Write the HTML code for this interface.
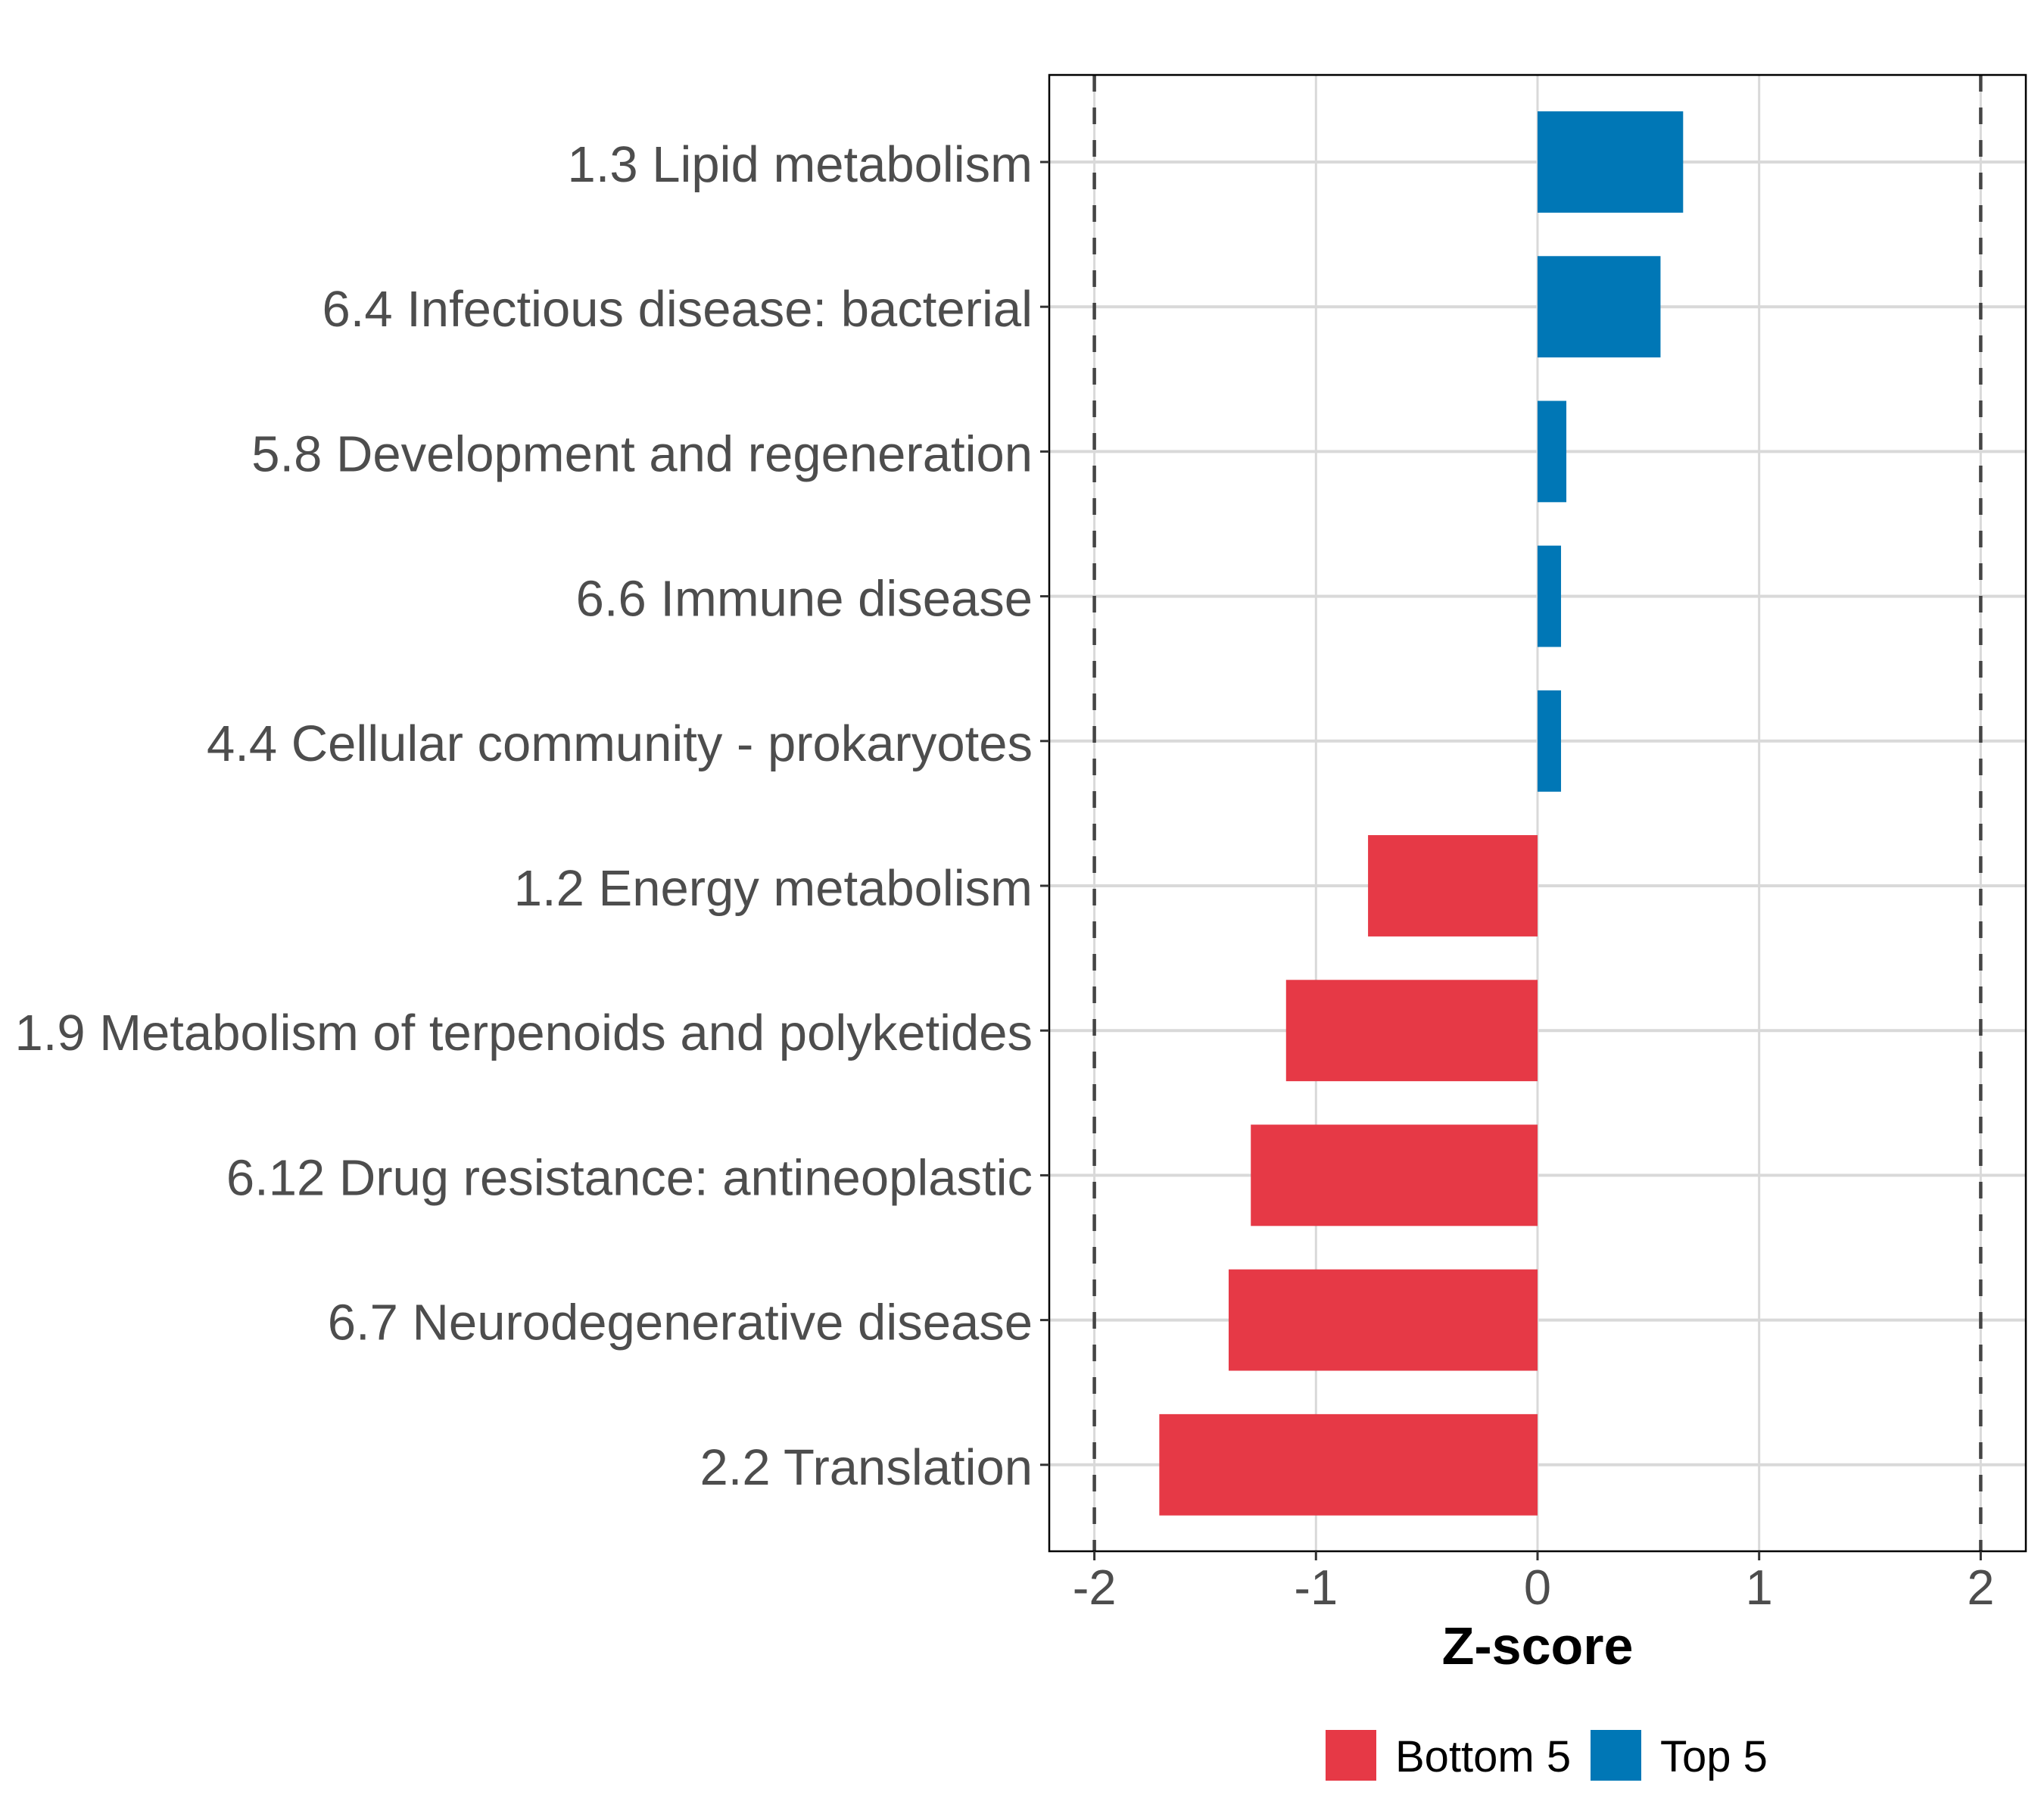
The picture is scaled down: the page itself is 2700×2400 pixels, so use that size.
<!DOCTYPE html>
<html><head><meta charset="utf-8"><style>
html,body{margin:0;padding:0;background:#fff;}
svg{display:block;font-family:"Liberation Sans",Arial,sans-serif;}
</style></head><body>
<svg id="chart" width="2700" height="2400" viewBox="0 0 2700 2400" xmlns="http://www.w3.org/2000/svg">
<rect width="2700" height="2400" fill="#fff"/>
<g id="grid"></g>
<g id="bars"></g>
<g id="refs"></g>
<rect x="1386" y="99" width="1290" height="1950" fill="none" stroke="#000" stroke-width="2.5"/>
<g id="yaxis"></g>
<g id="xaxis"></g>
<text x="2031" y="2198" text-anchor="middle" font-size="70" font-weight="bold" fill="#000">Z-score</text>
<g>
<g>
<rect x="1751" y="2285" width="67" height="67" fill="#E63946"/>
<text x="1843" y="2340" font-size="58" fill="#000">Bottom 5</text>
</g>
<g>
<rect x="2101" y="2285" width="67" height="67" fill="#0077B6"/>
<text x="2193" y="2340" font-size="58" fill="#000">Top 5</text>
</g>
</g>
</svg>
<script>
const categories = ["1.3 Lipid metabolism","6.4 Infectious disease: bacterial","5.8 Development and regeneration","6.6 Immune disease","4.4 Cellular community - prokaryotes","1.2 Energy metabolism","1.9 Metabolism of terpenoids and polyketides","6.12 Drug resistance: antineoplastic","6.7 Neurodegenerative disease","2.2 Translation"];
const zscores = [0.657,0.555,0.13,0.106,0.106,-0.765,-1.135,-1.294,-1.394,-1.707];
const groups = ["Top 5","Top 5","Top 5","Top 5","Top 5","Bottom 5","Bottom 5","Bottom 5","Bottom 5","Bottom 5"];
const xTicks = [-2,-1,0,1,2];
const xTickLabels = ["-2","-1","0","1","2"];
const refLines = [-2,2];

const NS="http://www.w3.org/2000/svg";
const PL=1386,PR=2676,PT=99,PB=2049;
const X0=2031,XU=292.7;
const Y0=214,YS=191.2;
function xs(v){return X0+v*XU;}
function ys(i){return Y0+i*YS;}
function mk(tag,attrs,parent){const e=document.createElementNS(NS,tag);for(const k in attrs)e.setAttribute(k,attrs[k]);parent.appendChild(e);return e;}
const grid=document.getElementById('grid'),bars=document.getElementById('bars'),refs=document.getElementById('refs'),yax=document.getElementById('yaxis'),xax=document.getElementById('xaxis');

xTicks.forEach((t,i)=>{
  const l=mk('line',{x1:xs(t),x2:xs(t),y1:PT,y2:PB,stroke:'#d9d9d9','stroke-width':3},grid);
  
  
  const tk=mk('line',{x1:xs(t),x2:xs(t),y1:PB,y2:PB+12,stroke:'#333','stroke-width':3},xax);
  
  
  const tx=mk('text',{x:xs(t),y:2119,'text-anchor':'middle','font-size':65,fill:'#4d4d4d'},xax);
  tx.textContent=xTickLabels[i];
  
  
});
categories.forEach((c,i)=>{
  const l=mk('line',{x1:PL,x2:PR,y1:ys(i),y2:ys(i),stroke:'#d9d9d9','stroke-width':4},grid);
  
  
  const v=zscores[i];
  const h=YS*0.7;
  const r=mk('rect',{x:Math.min(xs(0),xs(v)),y:ys(i)-h/2,width:Math.abs(xs(v)-xs(0)),height:h,fill:groups[i]==="Top 5"?'#0077B6':'#E63946'},bars);
  
  
  const tk=mk('line',{x1:PL-12,x2:PL,y1:ys(i),y2:ys(i),stroke:'#333','stroke-width':3},yax);
  
  
  const tx=mk('text',{x:1364,y:ys(i)+26,'text-anchor':'end','font-size':67,fill:'#4d4d4d'},yax);
  tx.textContent=c;
  
  
});
refLines.forEach(v=>{
  const l=mk('line',{x1:xs(v),x2:xs(v),y1:PT,y2:PB,stroke:'#444','stroke-width':4.5,'stroke-dasharray':'22 21'},refs);
  
  
});
</script>
</body></html>
